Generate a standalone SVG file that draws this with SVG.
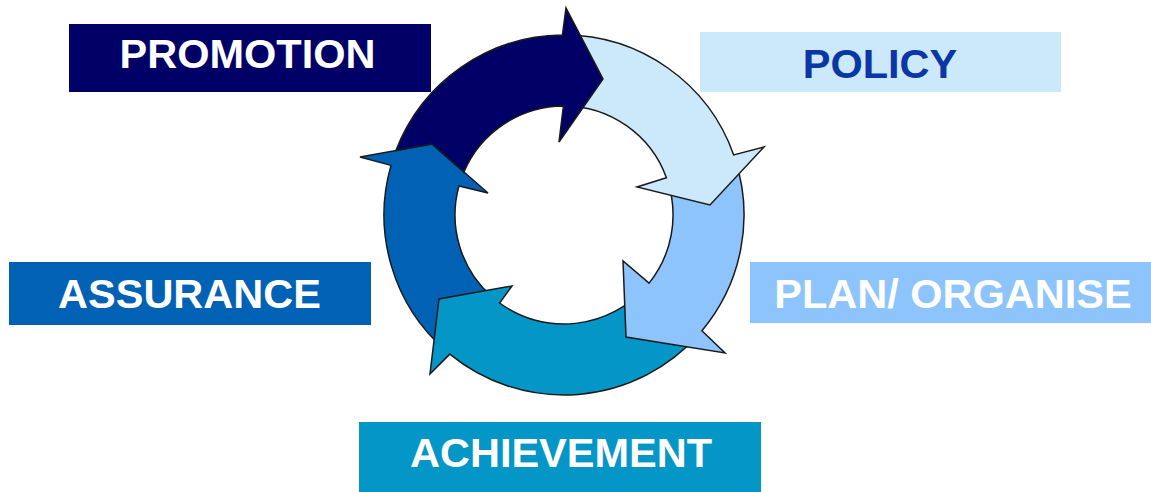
<svg xmlns="http://www.w3.org/2000/svg" width="1151" height="492" viewBox="0 0 1151 492">
  <style>
    .lbl { font-family: "Liberation Sans", Arial, sans-serif; font-weight: bold; font-size: 41.5px; text-anchor: middle; }
    .white { fill: #ffffff; }
    .arrow { stroke: #1a1a1a; stroke-width: 1.5; stroke-linejoin: miter; }
  </style>
  <rect width="1151" height="492" fill="#ffffff"/>

  <g id="connectors">
    <path id="arrow-assurance" class="arrow" fill="#0061B5" d="M 445.9,350.8 A 180 180 0 0 1 391,165.4 L 360,157 L 432,144 L 488,193 L 459,185.9 A 109 109 0 0 0 492.5,297.3 Z"/>
    <path id="arrow-achievement" class="arrow" fill="#0396C6" d="M 698.8,334.3 A 180 180 0 0 1 449.8,354.1 L 430,374 L 439,299 L 512,286 L 499.6,303 A 109 109 0 0 0 645.6,287.2 Z"/>
    <path id="arrow-plan" class="arrow" fill="#8DC4FC" d="M 735.2,159.4 A 180 180 0 0 1 701.9,330.7 L 725,353 L 626,337 L 623,261 L 649.1,283.1 A 109 109 0 0 0 667.7,181.3 Z"/>
    <path id="arrow-policy" class="arrow" fill="#CCE9FB" d="M 564,35 A 180 180 0 0 1 733.7,154.9 L 764,147 L 710,205 L 637,187 L 666.4,177.7 A 109 109 0 0 0 564,106 Z"/>
    <path id="arrow-promotion" class="arrow" fill="#000066" d="M 395.95,150.5 A 180 180 0 0 1 562.4,35 L 566,8 L 603,79 L 559,142 L 563.4,106 A 109 109 0 0 0 463.9,171.9 L 432,144 Z"/>
  </g>

  <g id="node-promotion">
    <rect x="69" y="24" width="362" height="68" fill="#000066"/>
    <text class="lbl white" x="247.5" y="68">PROMOTION</text>
  </g>
  <g id="node-policy">
    <rect x="700" y="32" width="361" height="60" fill="#CCE9FB"/>
    <text class="lbl" x="880" y="78" fill="#0A36A6">POLICY</text>
  </g>
  <g id="node-assurance">
    <rect x="9" y="262" width="362" height="63" fill="#0061B5"/>
    <text class="lbl white" x="189.5" y="308">ASSURANCE</text>
  </g>
  <g id="node-plan">
    <rect x="750" y="262" width="401" height="61" fill="#8DC4FC"/>
    <text class="lbl white" x="953" y="308">PLAN/ ORGANISE</text>
  </g>
  <g id="node-achievement">
    <rect x="359" y="422" width="402" height="70" fill="#0396C6"/>
    <text class="lbl white" x="561" y="467">ACHIEVEMENT</text>
  </g>
</svg>
